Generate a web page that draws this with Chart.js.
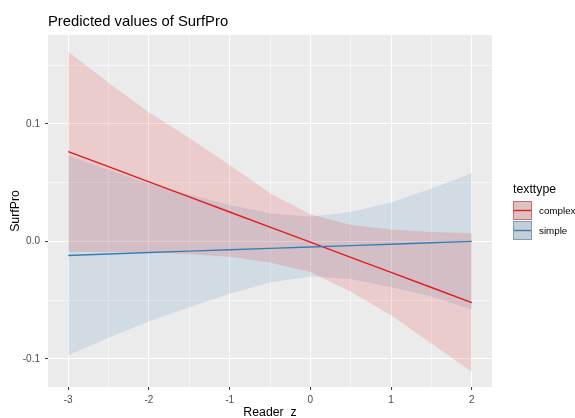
<!DOCTYPE html>
<html>
<head>
<meta charset="utf-8">
<script src="https://cdn.jsdelivr.net/npm/chart.js@4/dist/chart.umd.min.js"></script>
<style>
  html, body { margin: 0; padding: 0; background: #fff; }
</style>
</head>
<body>
<canvas id="chart" width="575" height="418"></canvas>
<script>
// predicted values
const readerZ = [-3, -2.5, -2, -1.5, -1, -0.5, 0, 0.5, 1, 1.5, 2];
const complexFit = [0.0764, 0.0636, 0.0507, 0.0379, 0.025, 0.0122, -0.0007, -0.0136, -0.0264, -0.0393, -0.0521];
const complexHigh = [0.1615, 0.135, 0.110, 0.088, 0.065, 0.041, 0.023, 0.014, 0.010, 0.008, 0.007];
const complexLow = [-0.009, -0.009, -0.009, -0.011, -0.013, -0.018, -0.026, -0.043, -0.063, -0.087, -0.111];
const simpleFit = [-0.012, -0.0107, -0.0095, -0.0083, -0.0071, -0.006, -0.0048, -0.0036, -0.0024, -0.0012, 0.0];
const simpleHigh = [0.073, 0.061, 0.049, 0.040, 0.031, 0.024, 0.021, 0.025, 0.033, 0.045, 0.058];
const simpleLow = [-0.097, -0.082, -0.068, -0.056, -0.0445, -0.035, -0.030, -0.032, -0.039, -0.047, -0.058];
const groups = ['complex', 'simple'];
const xTicks = [-3, -2.5, -2, -1.5, -1, -0.5, 0, 0.5, 1, 1.5, 2];
const yTicks = [-0.1, -0.05, 0, 0.05, 0.1, 0.15];

const red = '#E41A1C';
const blue = '#377EB8';
const font = 'Liberation Sans, Arial, sans-serif';

const pts = ys => readerZ.map((x, i) => ({ x: x, y: ys[i] }));
const isWhole = v => Math.abs(v - Math.round(v)) < 1e-9;

// grey ggplot panel
const panelBg = {
  id: 'panelBg',
  beforeDraw(chart) {
    const { ctx, chartArea: a } = chart;
    ctx.save();
    ctx.fillStyle = '#EBEBEB';
    ctx.fillRect(a.left, a.top, a.right - a.left, a.bottom - a.top);
    ctx.restore();
  }
};

// plot title and legend, ggplot style
const decorations = {
  id: 'decorations',
  afterDraw(chart) {
    const ctx = chart.ctx;
    ctx.save();
    ctx.fillStyle = '#000';
    ctx.textBaseline = 'alphabetic';
    ctx.textAlign = 'left';
    ctx.font = '14.8px ' + font;
    ctx.fillText('Predicted values of SurfPro', chart.chartArea.left, 26);

    ctx.font = '12.3px ' + font;
    ctx.fillText('texttype', 513, 193);

    const keys = [
      { c: red, fill: 'rgba(228,26,28,0.12)', border: 'rgba(228,26,28,0.55)' },
      { c: blue, fill: 'rgba(55,126,184,0.12)', border: 'rgba(55,126,184,0.55)' }
    ];
    groups.forEach((g, i) => {
      const top = 201 + i * 20;
      ctx.fillStyle = '#DADADA';
      ctx.fillRect(513, top, 19, 19);
      ctx.fillStyle = keys[i].fill;
      ctx.fillRect(513, top, 19, 19);
      ctx.strokeStyle = keys[i].border;
      ctx.lineWidth = 1;
      ctx.strokeRect(513.5, top + 0.5, 18, 18);
      ctx.strokeStyle = keys[i].c;
      ctx.lineWidth = 1.4;
      ctx.beginPath();
      ctx.moveTo(514, top + 9.5);
      ctx.lineTo(531, top + 9.5);
      ctx.stroke();
      ctx.fillStyle = '#000';
      ctx.font = '9.8px ' + font;
      ctx.textBaseline = 'middle';
      ctx.fillText(g, 539, top + 10.5);
    });
    ctx.restore();
  }
};

const band = (ys, fill) => ({
  data: pts(ys), borderColor: 'rgba(0,0,0,0)', borderWidth: 0,
  pointRadius: 0, backgroundColor: fill, fill: fill ? '+1' : false
});

new Chart(document.getElementById('chart'), {
  type: 'line',
  data: {
    datasets: [
      { label: 'simple', data: pts(simpleFit), borderColor: blue, borderWidth: 1.4, pointRadius: 0, fill: false },
      { label: 'complex', data: pts(complexFit), borderColor: red, borderWidth: 1.4, pointRadius: 0, fill: false },
      band(complexHigh, 'rgba(228,26,28,0.15)'),
      band(complexLow, null),
      band(simpleHigh, 'rgba(55,126,184,0.15)'),
      band(simpleLow, null)
    ]
  },
  options: {
    responsive: false,
    animation: false,
    devicePixelRatio: 1,
    events: [],
    layout: { padding: { top: 35, right: 83, bottom: 0, left: 0 } },
    elements: { line: { tension: 0 } },
    plugins: { legend: { display: false }, tooltip: { enabled: false }, title: { display: false } },
    scales: {
      x: {
        type: 'linear', min: -3.25, max: 2.25,
        afterBuildTicks: s => { s.ticks = xTicks.map(v => ({ value: v })); },
        afterFit: s => { s.height = 31; },
        border: { display: false },
        grid: {
          color: '#FFFFFF',
          lineWidth: c => (c.tick && isWhole(c.tick.value)) ? 1.1 : 0.55,
          tickLength: 3,
          tickWidth: 1,
          tickColor: c => (c.tick && isWhole(c.tick.value)) ? '#333333' : 'rgba(0,0,0,0)'
        },
        ticks: {
          autoSkip: false, maxRotation: 0, padding: 4, color: '#4D4D4D',
          font: { family: font, size: 10 },
          callback: v => isWhole(v) ? String(Math.round(v)) : ''
        },
        title: {
          display: true, text: 'Reader_z', color: '#000',
          font: { family: font, size: 12.3, lineHeight: 0.8 },
          padding: { top: 0, bottom: 0 }
        }
      },
      y: {
        type: 'linear', min: -0.124, max: 0.1757,
        afterBuildTicks: s => { s.ticks = yTicks.map(v => ({ value: v })); },
        afterFit: s => { s.width = 48; },
        border: { display: false },
        grid: {
          color: '#FFFFFF',
          lineWidth: c => (c.tick && isWhole(c.tick.value * 10)) ? 1.1 : 0.55,
          tickLength: 3,
          tickWidth: 1,
          tickColor: c => (c.tick && isWhole(c.tick.value * 10)) ? '#333333' : 'rgba(0,0,0,0)'
        },
        ticks: {
          autoSkip: false, padding: 5, color: '#4D4D4D',
          font: { family: font, size: 10 },
          callback: v => isWhole(v * 10) ? v.toFixed(1) : ''
        },
        title: {
          display: true, text: 'SurfPro', color: '#000',
          font: { family: font, size: 12.3 },
          padding: { top: 8, bottom: 0 }
        }
      }
    }
  },
  plugins: [panelBg, decorations]
});
</script>
</body>
</html>
